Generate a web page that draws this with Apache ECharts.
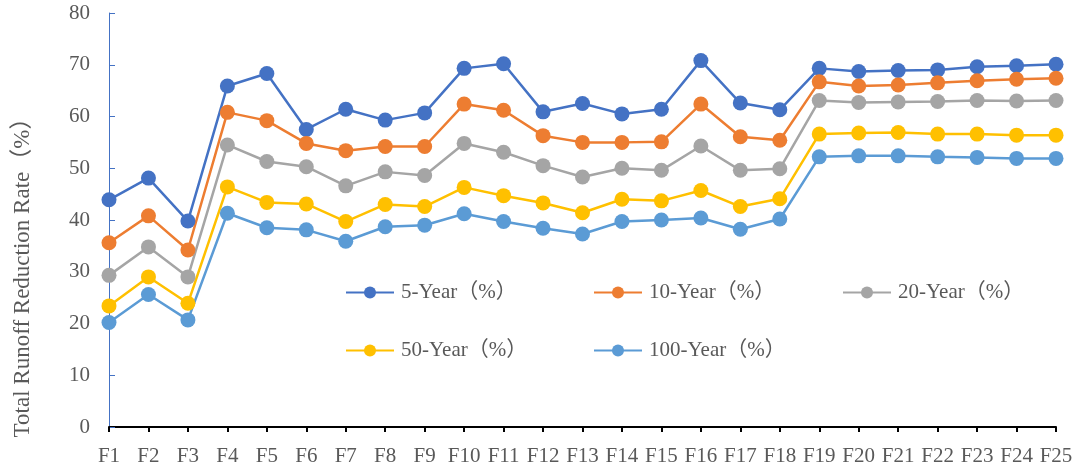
<!DOCTYPE html>
<html>
<head>
<meta charset="utf-8">
<script src="https://cdn.jsdelivr.net/npm/echarts@6/dist/echarts.min.js"></script>
<style>
  html, body { margin: 0; padding: 0; background: #fff; }
  #chart { width: 1090px; height: 472px; }
</style>
</head>
<body>
<div id="chart"></div>
<script>
// Categories along the x axis
const categories = ['F1','F2','F3','F4','F5','F6','F7','F8','F9','F10','F11','F12','F13',
  'F14','F15','F16','F17','F18','F19','F20','F21','F22','F23','F24','F25'];

// Runoff reduction rate (%) per return period
const year5 = [43.9, 48.1, 39.8, 65.9, 68.3, 57.5, 61.4, 59.3, 60.7, 69.3, 70.2, 60.9, 62.5,
  60.5, 61.4, 70.8, 62.6, 61.3, 69.3, 68.7, 68.9, 69.0, 69.6, 69.8, 70.1];
const year10 = [35.6, 40.8, 34.2, 60.8, 59.2, 54.8, 53.4, 54.2, 54.2, 62.4, 61.2, 56.3, 55.0,
  55.0, 55.1, 62.4, 56.1, 55.4, 66.7, 65.9, 66.1, 66.5, 66.9, 67.2, 67.4];
const year20 = [29.3, 34.8, 29.0, 54.5, 51.3, 50.3, 46.6, 49.3, 48.6, 54.8, 53.1, 50.5, 48.3,
  50.0, 49.6, 54.3, 49.6, 49.9, 63.1, 62.7, 62.8, 62.9, 63.1, 63.0, 63.1];
const year50 = [23.4, 29.0, 23.9, 46.4, 43.4, 43.1, 39.7, 43.0, 42.6, 46.3, 44.7, 43.3, 41.4,
  44.0, 43.7, 45.7, 42.6, 44.1, 56.6, 56.8, 56.9, 56.6, 56.6, 56.4, 56.4];
const year100 = [20.2, 25.6, 20.7, 41.3, 38.5, 38.1, 35.9, 38.7, 39.0, 41.2, 39.7, 38.4, 37.3,
  39.7, 40.0, 40.4, 38.2, 40.2, 52.2, 52.4, 52.4, 52.2, 52.1, 51.9, 51.9];

const seriesNames = ['5-Year（%）', '10-Year（%）', '20-Year（%）', '50-Year（%）', '100-Year（%）'];
const seriesData = [year5, year10, year20, year50, year100];
const colors = ['#4472C4', '#ED7D31', '#A5A5A5', '#FFC000', '#5B9BD5'];

const serif = '"Liberation Serif", "Times New Roman", "Noto Sans CJK SC", serif';
const textColor = '#595959';

// Legend placement: three items on the first row, two on the second
const legendPos = [
  { left: 345, top: 282 },
  { left: 593, top: 282 },
  { left: 842, top: 282 },
  { left: 345, top: 340 },
  { left: 593, top: 340 }
];

const chart = echarts.init(document.getElementById('chart'), null, { renderer: 'canvas' });

chart.setOption({
  animation: false,
  color: colors,
  grid: { left: 109, right: 34, top: 13, bottom: 45, containLabel: false },
  xAxis: {
    type: 'category',
    data: categories,
    boundaryGap: false,
    axisLine: { lineStyle: { color: '#000', width: 2 } },
    axisTick: { show: true, length: 5, lineStyle: { color: '#000', width: 2 } },
    axisLabel: { color: textColor, fontFamily: serif, fontSize: 21, margin: 19, interval: 0 },
    splitLine: { show: false }
  },
  yAxis: {
    type: 'value',
    min: 0,
    max: 80,
    interval: 10,
    axisLine: { show: true, lineStyle: { color: '#4472C4', width: 1 } },
    axisTick: { show: true, inside: true, length: 6, lineStyle: { color: '#4472C4' } },
    axisLabel: { color: textColor, fontFamily: serif, fontSize: 21, margin: 19 },
    splitLine: { show: false }
  },
  legend: legendPos.map((p, i) => ({
    left: p.left,
    top: p.top,
    padding: 0,
    data: [seriesNames[i]],
    itemWidth: 48,
    itemHeight: 15,
    itemGap: 6,
    textStyle: { color: textColor, fontFamily: serif, fontSize: 21, padding: [0, 0, 0, 2] }
  })),
  graphic: [{
    type: 'text',
    x: 23,
    y: 272,
    rotation: Math.PI / 2,
    style: {
      text: 'Total Runoff Reduction Rate（%）',
      fill: textColor,
      font: '23px ' + serif,
      align: 'center',
      verticalAlign: 'middle'
    }
  }],
  series: seriesNames.map((name, i) => ({
    name: name,
    type: 'line',
    data: seriesData[i],
    symbol: 'circle',
    symbolSize: 15,
    lineStyle: { width: 2.5, color: colors[i] },
    itemStyle: { color: colors[i] }
  }))
});
</script>
</body>
</html>
